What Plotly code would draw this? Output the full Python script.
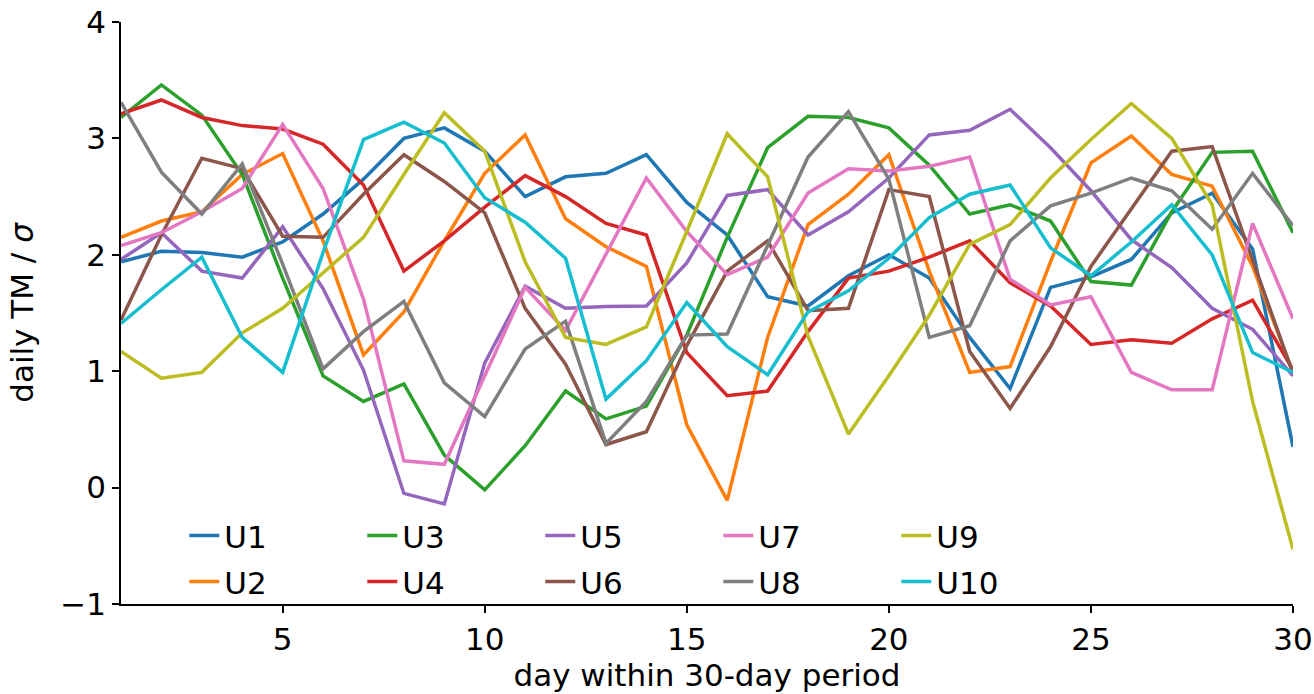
import plotly.graph_objects as go

days = list(range(1, 31))

U1 = [1.94, 2.03, 2.02, 1.98, 2.11, 2.35, 2.65, 3.00, 3.09, 2.89, 2.50, 2.67, 2.70, 2.86, 2.45,
      2.17, 1.64, 1.56, 1.82, 2.00, 1.80, 1.29, 0.85, 1.72, 1.81, 1.96, 2.36, 2.53, 2.05, 0.35]
U2 = [2.15, 2.29, 2.37, 2.69, 2.87, 2.12, 1.14, 1.51, 2.12, 2.70, 3.03, 2.31, 2.07, 1.90, 0.54,
      -0.11, 1.29, 2.26, 2.52, 2.86, 1.86, 0.99, 1.04, 1.94, 2.79, 3.02, 2.69, 2.59, 1.90, 0.99]
U3 = [3.18, 3.46, 3.20, 2.69, 1.80, 0.96, 0.74, 0.89, 0.28, -0.02, 0.36, 0.83, 0.59, 0.70, 1.31,
      2.15, 2.92, 3.19, 3.18, 3.09, 2.77, 2.35, 2.43, 2.29, 1.77, 1.74, 2.37, 2.88, 2.89, 2.19]
U4 = [3.21, 3.33, 3.18, 3.11, 3.08, 2.95, 2.60, 1.86, 2.12, 2.41, 2.68, 2.50, 2.27, 2.17, 1.16,
      0.79, 0.83, 1.34, 1.80, 1.86, 1.98, 2.12, 1.76, 1.56, 1.23, 1.27, 1.24, 1.45, 1.61, 1.01]
U5 = [1.96, 2.19, 1.86, 1.80, 2.24, 1.71, 1.01, -0.05, -0.14, 1.07, 1.73, 1.54, 1.555, 1.56, 1.93,
      2.51, 2.56, 2.17, 2.37, 2.66, 3.03, 3.07, 3.25, 2.92, 2.55, 2.13, 1.89, 1.54, 1.36, 0.96]
U6 = [1.44, 2.17, 2.83, 2.74, 2.16, 2.15, 2.52, 2.86, 2.63, 2.36, 1.54, 1.06, 0.37, 0.48, 1.22,
      1.86, 2.12, 1.52, 1.54, 2.56, 2.50, 1.17, 0.68, 1.21, 1.90, 2.40, 2.89, 2.93, 1.96, 0.98]
U7 = [2.08, 2.19, 2.37, 2.57, 3.12, 2.57, 1.62, 0.23, 0.20, 0.96, 1.72, 1.35, 2.00, 2.66, 2.20,
      1.83, 1.98, 2.53, 2.74, 2.72, 2.76, 2.84, 1.79, 1.57, 1.64, 0.99, 0.84, 0.84, 2.27, 1.45]
U8 = [3.31, 2.71, 2.35, 2.78, 1.92, 1.02, 1.34, 1.60, 0.90, 0.61, 1.19, 1.43, 0.38, 0.74, 1.31,
      1.32, 2.08, 2.84, 3.23, 2.65, 1.29, 1.39, 2.12, 2.42, 2.53, 2.66, 2.55, 2.22, 2.70, 2.25]
U9 = [1.17, 0.94, 0.99, 1.33, 1.54, 1.85, 2.15, 2.69, 3.22, 2.89, 1.94, 1.29, 1.23, 1.38, 2.20,
      3.04, 2.67, 1.30, 0.46, 0.96, 1.48, 2.09, 2.26, 2.66, 2.99, 3.30, 3.00, 2.43, 0.74, -0.53]
U10 = [1.41, 1.70, 1.98, 1.29, 0.99, 2.02, 2.99, 3.14, 2.96, 2.49, 2.28, 1.97, 0.76, 1.09, 1.59,
       1.21, 0.97, 1.51, 1.69, 1.97, 2.32, 2.52, 2.60, 2.06, 1.82, 2.11, 2.43, 2.00, 1.16, 0.99]

names = ["U1", "U2", "U3", "U4", "U5", "U6", "U7", "U8", "U9", "U10"]
series = [U1, U2, U3, U4, U5, U6, U7, U8, U9, U10]
colors = ["#1f77b4", "#ff7f0e", "#2ca02c", "#d62728", "#9467bd",
          "#8c564b", "#e377c2", "#7f7f7f", "#bcbd22", "#17becf"]

x_ticks = [5, 10, 15, 20, 25, 30]
y_ticks = [-1, 0, 1, 2, 3, 4]

FONT = "DejaVu Sans"
FS = 31

fig = go.Figure()
for i, (n, s, c) in enumerate(zip(names, series, colors)):
    fig.add_trace(go.Scatter(
        x=days, y=s, mode="lines", name=n,
        line=dict(color=c, width=3.5),
        legend="legend" if i % 2 == 0 else "legend2",
    ))

legend_common = dict(
    orientation="h", bgcolor="rgba(0,0,0,0)", borderwidth=0,
    font=dict(family=FONT, size=FS, color="black"),
    entrywidth=133, entrywidthmode="pixels",
    xanchor="left", yanchor="middle", traceorder="normal",
)

fig.update_layout(
    width=1314, height=694,
    margin=dict(l=121, r=21, t=22, b=90),
    paper_bgcolor="white", plot_bgcolor="white",
    font=dict(family=FONT, size=FS, color="black"),
    showlegend=True,
    legend=dict(x=0.054, y=0.117, **legend_common),
    legend2=dict(x=0.054, y=0.038, **legend_common),
    xaxis=dict(
        range=[1, 30], tickvals=x_ticks, ticktext=[str(v) for v in x_ticks],
        showline=True, linecolor="black", linewidth=1.6, mirror=False,
        ticks="outside", ticklen=7, tickwidth=1.6, tickcolor="black",
        showgrid=False, zeroline=False, automargin=False,
        tickfont=dict(family=FONT, size=FS),
        title=dict(text="day within 30-day period", font=dict(family=FONT, size=FS), standoff=3),
    ),
    yaxis=dict(
        range=[-1, 4], tickvals=y_ticks, ticktext=[("\u2212" + str(-v)) if v < 0 else str(v) for v in y_ticks],
        showline=True, linecolor="black", linewidth=1.6, mirror=False,
        ticks="outside", ticklen=7, tickwidth=1.6, tickcolor="black",
        showgrid=False, zeroline=False, automargin=False,
        tickfont=dict(family=FONT, size=FS),
        title=dict(text="daily TM / <i>σ</i>", font=dict(family=FONT, size=FS), standoff=17),
    ),
)

fig.write_html("out.html")
